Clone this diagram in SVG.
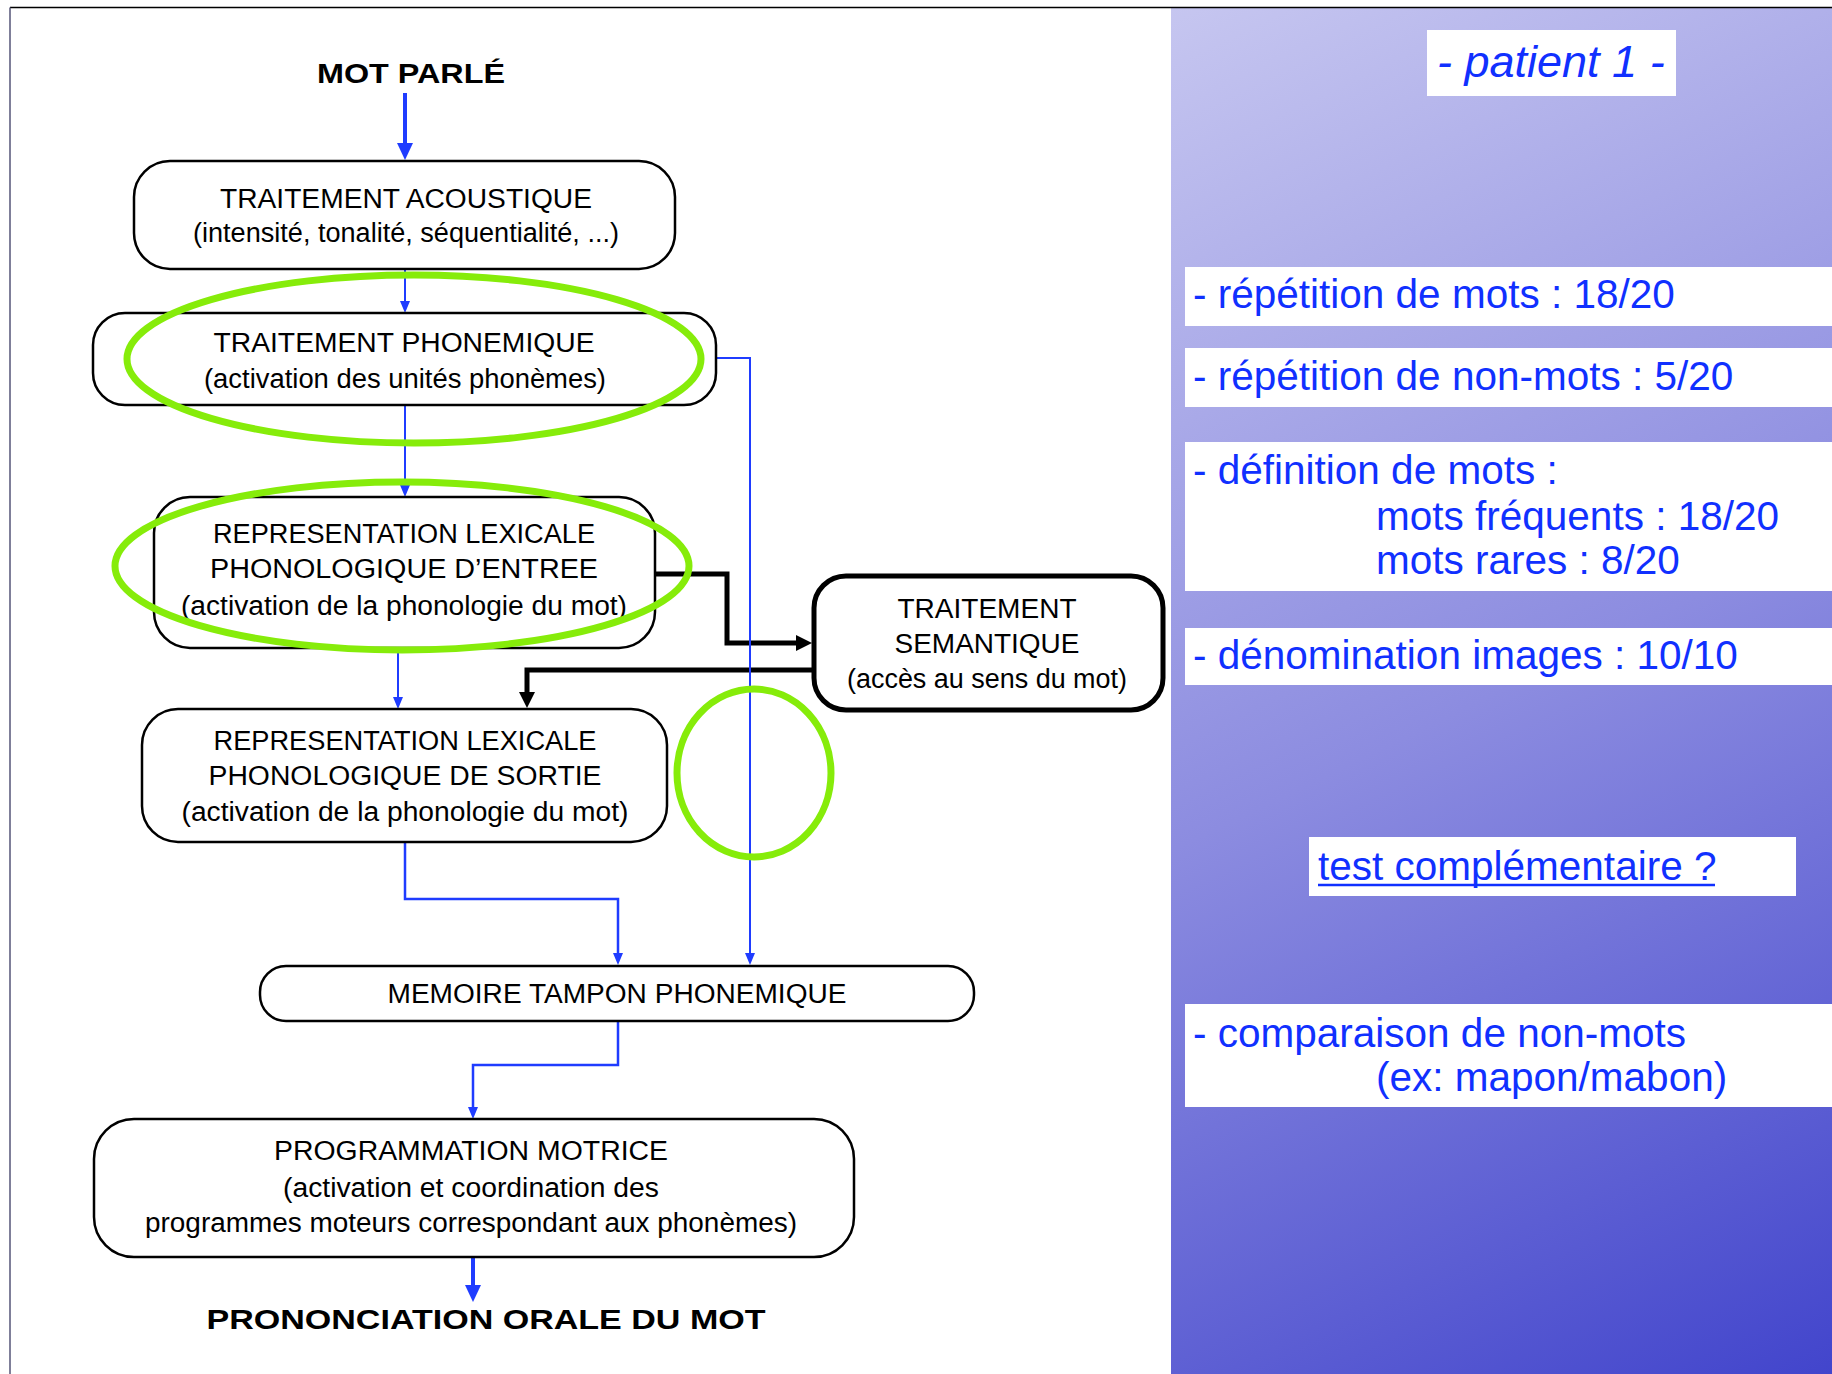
<svg xmlns="http://www.w3.org/2000/svg" width="1832" height="1374" viewBox="0 0 1832 1374">
<defs>
<linearGradient id="panelGrad" gradientUnits="userSpaceOnUse" x1="1171" y1="8" x2="1832" y2="1374">
<stop offset="0" stop-color="#c6c6f0"/>
<stop offset="0.5" stop-color="#8c8ce0"/>
<stop offset="1" stop-color="#4245cc"/>
</linearGradient>
<marker id="arrBlueS" markerUnits="userSpaceOnUse" markerWidth="12" markerHeight="12" viewBox="0 0 12 12" refX="6" refY="6" orient="auto">
<path d="M0,1 L12,6 L0,11 Z" fill="#1f3cff"/>
</marker>
<marker id="arrBlueL" markerUnits="userSpaceOnUse" markerWidth="17" markerHeight="16" viewBox="0 0 17 16" refX="7" refY="8" orient="auto">
<path d="M0,0 L17,8 L0,16 Z" fill="#1f3cff"/>
</marker>
<marker id="arrBlack" markerUnits="userSpaceOnUse" markerWidth="16" markerHeight="16" viewBox="0 0 16 16" refX="6" refY="8" orient="auto">
<path d="M0,0 L16,8 L0,16 Z" fill="#000"/>
</marker>
<style>
.box{fill:#fff;stroke:#000;stroke-width:2.5}
.boxB{fill:#fff;stroke:#000;stroke-width:5}
.t{font-family:"Liberation Sans",Arial,sans-serif;font-size:27px;fill:#000;text-anchor:middle}
.tb{font-family:"Liberation Sans",Arial,sans-serif;font-size:28px;font-weight:bold;fill:#000;text-anchor:middle}
.bl{fill:none;stroke:#1f3cff;stroke-width:2}
.blT{fill:none;stroke:#1f3cff;stroke-width:4}
.bk{fill:none;stroke:#000;stroke-width:5}
.hl{fill:none;stroke:#86ec0a;stroke-width:7}
.wb{fill:#fff}
.p{font-family:"Liberation Sans",Arial,sans-serif;font-size:40.5px;fill:#1030ff}
</style>
</defs>
<rect x="0" y="0" width="1832" height="1374" fill="#fff"/>
<rect x="1171" y="8" width="661" height="1366" fill="url(#panelGrad)"/>
<line x1="10" y1="7.5" x2="1832" y2="7.5" stroke="#000" stroke-width="1.5"/>
<line x1="10" y1="7.5" x2="10" y2="1374" stroke="#555577" stroke-width="1.5"/>

<g id="connectors">
<path class="bk" d="M656,574 H727 V643 H802" marker-end="url(#arrBlack)"/>
<path class="bk" d="M813,670 H527 V698" marker-end="url(#arrBlack)"/>
<path class="blT" d="M405,93 V150" marker-end="url(#arrBlueL)"/>
<path class="bl" d="M405,269 V307" marker-end="url(#arrBlueS)"/>
<path class="bl" d="M405,405 V491" marker-end="url(#arrBlueS)"/>
<path class="bl" d="M398,648 V703" marker-end="url(#arrBlueS)"/>
<path class="bl" d="M716,358 H750 V959" marker-end="url(#arrBlueS)"/>
<path class="bl" style="stroke-width:2.5" d="M405,843 V899 H618 V959" marker-end="url(#arrBlueS)"/>
<path class="bl" style="stroke-width:2.5" d="M618,1021 V1065 H473 V1113" marker-end="url(#arrBlueS)"/>
<path class="blT" d="M473,1257 V1292" marker-end="url(#arrBlueL)"/>
</g>

<g id="mot-parle">
<text class="tb" x="411" y="83" textLength="188" lengthAdjust="spacingAndGlyphs">MOT PARLÉ</text>
</g>

<g id="traitement-acoustique">
<rect class="box" x="134" y="161" width="541" height="108" rx="36"/>
<text class="t" x="406" y="208" textLength="372" lengthAdjust="spacingAndGlyphs">TRAITEMENT ACOUSTIQUE</text>
<text class="t" x="406" y="242" textLength="426" lengthAdjust="spacingAndGlyphs">(intensité, tonalité, séquentialité, ...)</text>
</g>

<g id="traitement-phonemique">
<rect class="box" x="93" y="313" width="623" height="92" rx="32"/>
<text class="t" x="404" y="352" textLength="381" lengthAdjust="spacingAndGlyphs">TRAITEMENT PHONEMIQUE</text>
<text class="t" x="405" y="388" textLength="402" lengthAdjust="spacingAndGlyphs">(activation des unités phonèmes)</text>
</g>

<g id="rep-lex-entree">
<rect class="box" x="154" y="497" width="501" height="151" rx="36"/>
<text class="t" x="404" y="543" textLength="382" lengthAdjust="spacingAndGlyphs">REPRESENTATION LEXICALE</text>
<text class="t" x="404" y="578" textLength="388" lengthAdjust="spacingAndGlyphs">PHONOLOGIQUE D’ENTREE</text>
<text class="t" x="404" y="615" textLength="446" lengthAdjust="spacingAndGlyphs">(activation de la phonologie du mot)</text>
</g>

<g id="rep-lex-sortie">
<rect class="box" x="142" y="709" width="525" height="133" rx="36"/>
<text class="t" x="405" y="750" textLength="383" lengthAdjust="spacingAndGlyphs">REPRESENTATION LEXICALE</text>
<text class="t" x="405" y="785" textLength="393" lengthAdjust="spacingAndGlyphs">PHONOLOGIQUE DE SORTIE</text>
<text class="t" x="405" y="821" textLength="447" lengthAdjust="spacingAndGlyphs">(activation de la phonologie du mot)</text>
</g>

<g id="traitement-semantique">
<rect class="boxB" x="814" y="576" width="349" height="134" rx="32"/>
<text class="t" x="987" y="618" textLength="179" lengthAdjust="spacingAndGlyphs">TRAITEMENT</text>
<text class="t" x="987" y="653" textLength="185" lengthAdjust="spacingAndGlyphs">SEMANTIQUE</text>
<text class="t" x="987" y="688" textLength="280" lengthAdjust="spacingAndGlyphs">(accès au sens du mot)</text>
</g>

<g id="memoire-tampon">
<rect class="box" x="260" y="966" width="714" height="55" rx="26"/>
<text class="t" x="617" y="1003" textLength="459" lengthAdjust="spacingAndGlyphs">MEMOIRE TAMPON PHONEMIQUE</text>
</g>

<g id="programmation-motrice">
<rect class="box" x="94" y="1119" width="760" height="138" rx="40"/>
<text class="t" x="471" y="1160" textLength="394" lengthAdjust="spacingAndGlyphs">PROGRAMMATION MOTRICE</text>
<text class="t" x="471" y="1197" textLength="376" lengthAdjust="spacingAndGlyphs">(activation et coordination des</text>
<text class="t" x="471" y="1232" textLength="652" lengthAdjust="spacingAndGlyphs">programmes moteurs correspondant aux phonèmes)</text>
</g>

<g id="prononciation">
<text class="tb" x="486" y="1329" textLength="559" lengthAdjust="spacingAndGlyphs">PRONONCIATION ORALE DU MOT</text>
</g>

<g id="highlights">
<ellipse class="hl" cx="414" cy="359" rx="287" ry="84"/>
<ellipse class="hl" cx="402" cy="566" rx="287" ry="84"/>
<ellipse class="hl" cx="754" cy="773" rx="77" ry="84"/>
</g>

<g id="panel">
<rect class="wb" x="1427" y="30" width="249" height="66"/>
<text x="1437" y="77" font-family="Liberation Sans, Arial, sans-serif" font-size="45" font-style="italic" fill="#1030ff">- patient 1 -</text>
<rect class="wb" x="1185" y="267" width="647" height="59"/>
<text class="p" x="1193" y="308">- répétition de mots : 18/20</text>
<rect class="wb" x="1185" y="348" width="647" height="59"/>
<text class="p" x="1193" y="390">- répétition de non-mots : 5/20</text>
<rect class="wb" x="1185" y="442" width="647" height="149"/>
<text class="p" x="1193" y="484">- définition de mots :</text>
<text class="p" x="1376" y="530">mots fréquents : 18/20</text>
<text class="p" x="1376" y="574">mots rares : 8/20</text>
<rect class="wb" x="1185" y="628" width="647" height="57"/>
<text class="p" x="1193" y="669">- dénomination images : 10/10</text>
<rect class="wb" x="1309" y="837" width="487" height="59"/>
<text class="p" x="1318" y="880">test complémentaire ?</text>
<line x1="1318" y1="885" x2="1715" y2="885" stroke="#1030ff" stroke-width="2.5"/>
<rect class="wb" x="1185" y="1004" width="647" height="103"/>
<text class="p" x="1193" y="1047">- comparaison de non-mots</text>
<text class="p" x="1376" y="1091">(ex: mapon/mabon)</text>
</g>
</svg>
